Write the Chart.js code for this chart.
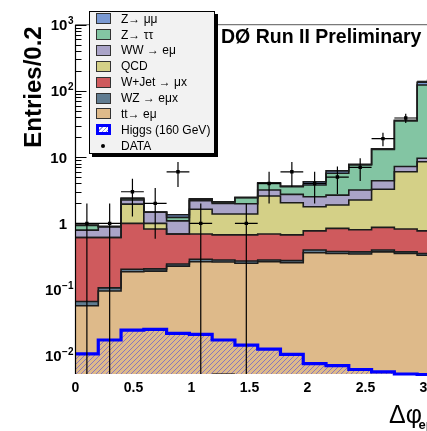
<!DOCTYPE html>
<html>
<head>
<meta charset="utf-8">
<script src="https://cdn.jsdelivr.net/npm/chart.js@4.4.1/dist/chart.umd.min.js"></script>
<style>
  html, body { margin: 0; padding: 0; background: #fff; overflow: hidden; }
  #wrap { position: relative; width: 427px; height: 431px; overflow: hidden;
          font-family: "Liberation Sans", Arial, Helvetica, sans-serif; color: #000; }
  #c { position: absolute; left: 0; top: 0; }
  #legend { position: absolute; left: 89px; top: 11px; width: 124px; height: 141px;
            background: #f2f2f2; border: 1px solid #000; box-shadow: 3px 3px 0 #000; }
  .row { position: absolute; left: 0; font-size: 12px; line-height: 12px; white-space: nowrap; }
  .sw { position: absolute; box-sizing: border-box; width: 15px; height: 11px; border: 1px solid #333; }
  .dot { position: absolute; width: 4px; height: 4px; border-radius: 50%; background: #000; }
  #title { position: absolute; left: 221px; top: 26.5px; font-size: 19.5px; line-height: 19.5px;
           font-weight: bold; white-space: nowrap; }
  #ytitle { position: absolute; left: 0; top: 0; width: 160px; text-align: center;
            font-size: 24px; line-height: 24px; font-weight: bold; white-space: nowrap;
            transform-origin: 0 0; transform: translate(21.2px, 167px) rotate(-90deg); }
  #xtitle { position: absolute; left: 389px; top: 401.5px;
            font-size: 25px; line-height: 25px; white-space: nowrap; }
  #xsub { position: absolute; left: 418.5px; top: 418px; font-size: 13px; line-height: 13px;
          font-weight: bold; white-space: nowrap; }
</style>
</head>
<body>
<div id="wrap">
  <canvas id="c" width="470" height="431"></canvas>
  <div id="title">DØ Run II Preliminary</div>
  <div id="ytitle">Entries/0.2</div>
  <div id="xtitle">Δφ</div>
  <div id="xsub">eμ</div>
  <div id="legend"></div>
</div>
<script>
// Δφ(e,μ) binning: 16 bins from 0 to π
const nBins = 16;
const dphiMax = Math.PI;
const binEdges = Array.from({ length: nBins + 1 }, (_, k) => k * dphiMax / nBins);

// Expected events per bin for each background
const ttbar   = [0.057, 0.095, 0.186, 0.19, 0.226, 0.263, 0.26, 0.25, 0.263, 0.255, 0.36, 0.35, 0.345, 0.37, 0.35, 0.33];
const wz      = [0.009, 0.011, 0.016, 0.015, 0.017, 0.023, 0.02, 0.02, 0.017, 0.02, 0.035, 0.025, 0.025, 0.025, 0.02, 0.02];
const wjet    = [0.544, 0.504, 0.798, 0.615, 0.447, 0.404, 0.39, 0.40, 0.41, 0.395, 0.375, 0.465, 0.43, 0.475, 0.45, 0.42];
const qcd     = [0, 0, 0.95, 0.18, 0, 0.94, 0.71, 0.71, 1.89, 1.38, 1.01, 1.05, 1.45, 2.4, 5.18, 7.73];
const ww      = [0.18, 0.28, 0.30, 0.47, 0.40, 0.56, 0.62, 0.60, 0.61, 0.69, 0.74, 0.78, 0.94, 1.13, 1.2, 1.1];
const ztautau = [0.14, 0, 0.10, 0, 0.14, 0.11, 0.10, 0.45, 0.81, 0.83, 1.28, 3.03, 4.41, 8.7, 27.9, 113.4];
const zmumu   = [0.01, 0.01, 0.05, 0.01, 0.12, 0.05, 0.02, 0.04, 0.1, 0.08, 0.45, 0.5, 0.2, 0.3, 0.9, 12];

// Signal expectation, m_H = 160 GeV
const higgs160 = [0.0107, 0.0173, 0.0244, 0.025, 0.0218, 0.021, 0.0173, 0.0145, 0.0126, 0.0105, 0.0076, 0.0071, 0.0062, 0.0057, 0.0053, 0.0052];

// Observed events
const dataCounts = [1, 1, 3, 2, 6, 1, 0, 1, 4, 6, 4, 5, 7, 19, 39, 140];

// Axis labelling
const xTickValues = [0, 0.5, 1, 1.5, 2, 2.5, 3];
const xTickLabels = ['0', '0.5', '1', '1.5', '2', '2.5', '3'];
const yTickExponents = [-2, -1, 0, 1, 2, 3];

const Y_MIN = 0.0053, Y_MAX = 1000;
const CANVAS_W = 470;

// Stack, bottom to top
const stack = [
  { label: 'tt→ eμ',     values: ttbar,   color: '#deba8a' },
  { label: 'WZ → eμx',   values: wz,      color: '#607c91' },
  { label: 'W+Jet → μx', values: wjet,    color: '#cf5a5d' },
  { label: 'QCD',        values: qcd,     color: '#d4d087' },
  { label: 'WW → eμ',    values: ww,      color: '#aaa4c8' },
  { label: 'Z→ ττ',      values: ztautau, color: '#83c5a3' },
  { label: 'Z→ μμ',      values: zmumu,   color: '#7a99d2' }
];

let running = new Array(nBins).fill(0);
const cumulative = stack.map(s => {
  running = running.map((r, i) => r + s.values[i]);
  return running.slice();
});

// One point per low bin edge, plus the upper edge of the last bin
const stepPoints = vals => binEdges.map((x, k) => ({ x, y: vals[Math.min(k, nBins - 1)] }));

function hatchPattern() {
  const t = document.createElement('canvas');
  t.width = 5; t.height = 5;
  const g = t.getContext('2d');
  g.strokeStyle = 'rgba(105,95,205,0.75)';
  g.lineWidth = 1;
  g.beginPath();
  g.moveTo(0, 5); g.lineTo(5, 0);
  g.moveTo(-1, 1); g.lineTo(1, -1);
  g.moveTo(4, 6); g.lineTo(6, 4);
  g.stroke();
  return g.createPattern(t, 'repeat');
}

// Data: full-bin horizontal bar and sqrt(N) vertical bar
const binCenter = i => (binEdges[i] + binEdges[i + 1]) / 2;
const errPoints = [];
dataCounts.forEach((n, i) => {
  const xc = binCenter(i);
  const yc = n > 0 ? n : Y_MIN;
  errPoints.push({ x: binEdges[i], y: yc }, { x: binEdges[i + 1], y: yc }, { x: xc, y: null });
  if (n > 0) {
    const e = Math.sqrt(n);
    errPoints.push({ x: xc, y: Math.max(n - e, Y_MIN * 0.5) }, { x: xc, y: n + e }, { x: xc, y: null });
  }
});
const markerPoints = dataCounts.map((n, i) => ({ x: binCenter(i), y: n > 0 ? n : null }));

const stackDatasets = stack.map((s, j) => ({
  label: s.label,
  data: stepPoints(cumulative[j]),
  stepped: true,
  borderColor: '#1c1c1c',
  borderWidth: 1.6,
  backgroundColor: s.color,
  pointRadius: 0,
  fill: j === 0 ? 'start' : 10 - j
})).reverse();

const datasets = [
  { label: 'DATA', data: errPoints, borderColor: '#000', borderWidth: 1.2, pointRadius: 0, spanGaps: false, fill: false },
  { label: 'DATA', data: markerPoints, showLine: false, pointStyle: 'rect', pointRadius: 2.4,
    pointBackgroundColor: '#000', pointBorderWidth: 0, fill: false },
  { label: 'Higgs (160 GeV)', data: stepPoints(higgs160), stepped: true, borderColor: '#0000ff',
    borderWidth: 3.2, backgroundColor: hatchPattern(), pointRadius: 0, fill: 'start',
    clip: { left: 0, top: 0, right: 0, bottom: 2 } },
  ...stackDatasets
];

const axisFrame = {
  id: 'axisFrame',
  beforeDraw(chart) {
    const { ctx, chartArea: a, scales: { y } } = chart;
    ctx.save();
    ctx.fillStyle = '#fff';
    ctx.fillRect(0, 0, chart.width, chart.height);
    ctx.strokeStyle = '#7a7a7a';
    ctx.lineWidth = 1.2;
    ctx.beginPath(); ctx.moveTo(a.left, a.top); ctx.lineTo(a.right, a.top); ctx.stroke();
    ctx.strokeStyle = '#000';
    ctx.lineWidth = 1;
    for (let e = -3; e <= 3; e++) {
      for (let m = 1; m <= 9; m++) {
        const v = m * Math.pow(10, e);
        if (v < Y_MIN || v > Y_MAX) continue;
        const py = Math.round(y.getPixelForValue(v)) + 0.5;
        const len = m === 1 ? 11 : 6;
        ctx.beginPath(); ctx.moveTo(a.left, py); ctx.lineTo(a.left + len, py); ctx.stroke();
      }
    }
    ctx.restore();
  },
  afterDraw(chart) {
    const { ctx, chartArea: a, scales: { x, y } } = chart;
    ctx.save();
    ctx.strokeStyle = '#000';
    ctx.lineWidth = 1.2;
    ctx.beginPath(); ctx.moveTo(a.left, a.top); ctx.lineTo(a.left, a.bottom); ctx.stroke();

    ctx.fillStyle = '#000';
    ctx.font = 'bold 14px "Liberation Sans", Arial, sans-serif';
    ctx.textAlign = 'center';
    ctx.textBaseline = 'alphabetic';
    xTickValues.forEach((v, i) => ctx.fillText(xTickLabels[i], x.getPixelForValue(v), 391.5));

    const supRight = 73.5;
    yTickExponents.forEach(e => {
      const py = y.getPixelForValue(Math.pow(10, e));
      ctx.textAlign = 'right';
      ctx.font = 'bold 15px "Liberation Sans", Arial, sans-serif';
      if (e === 0 || e === 1) {
        ctx.fillText(e === 0 ? '1' : '10', 67, py + 5.5);
      } else {
        ctx.font = 'bold 10px "Liberation Sans", Arial, sans-serif';
        const sup = String(e).replace('-', '\u2212');
        const supW = ctx.measureText(sup).width;
        ctx.textAlign = 'left';
        ctx.fillText(sup, supRight - supW, py - 1);
        ctx.textAlign = 'right';
        ctx.font = 'bold 15px "Liberation Sans", Arial, sans-serif';
        ctx.fillText('10', supRight - supW - 0.5, py + 5.5);
      }
    });
    ctx.restore();
  }
};

new Chart(document.getElementById('c'), {
  type: 'line',
  data: { datasets },
  options: {
    responsive: false,
    animation: false,
    events: [],
    parsing: true,
    layout: { padding: { left: 75.5, top: 24.7, right: CANVAS_W - 439.9, bottom: 57 } },
    scales: {
      x: { type: 'linear', min: 0, max: dphiMax, display: false },
      y: { type: 'logarithmic', min: Y_MIN, max: Y_MAX, display: false }
    },
    elements: { line: { tension: 0 } },
    plugins: {
      legend: { display: false },
      tooltip: { enabled: false },
      filler: { drawTime: 'beforeDatasetsDraw' }
    }
  },
  plugins: [axisFrame]
});

// Legend box, drawn top to bottom like the stack
const legendEntries = [...stack].reverse().map(s => ({ label: s.label, color: s.color, kind: 'box' }))
  .concat([{ label: 'Higgs (160 GeV)', kind: 'higgs' }, { label: 'DATA', kind: 'data' }]);
const legend = document.getElementById('legend');
legendEntries.forEach((en, i) => {
  const centerY = 18.5 + 15.9 * i - 12;   // relative to the box content
  const sw = document.createElement('div');
  if (en.kind === 'data') {
    sw.className = 'dot';
    sw.style.left = (5.7 + 5.5) + 'px';
    sw.style.top = (centerY - 2) + 'px';
  } else {
    sw.className = 'sw';
    sw.style.left = '5.7px';
    sw.style.top = (centerY - 5.5) + 'px';
    if (en.kind === 'box') {
      sw.style.background = en.color;
    } else {
      sw.style.border = '3px solid #0000ff';
      sw.style.background = 'repeating-linear-gradient(135deg, #fff 0 2px, #9a9ae0 2px 3px)';
    }
  }
  legend.appendChild(sw);
  const row = document.createElement('div');
  row.className = 'row';
  row.style.left = '31px';
  row.style.top = (centerY + 4.3 - 10.16) + 'px';
  row.textContent = en.label;
  legend.appendChild(row);
});
</script>
</body>
</html>
